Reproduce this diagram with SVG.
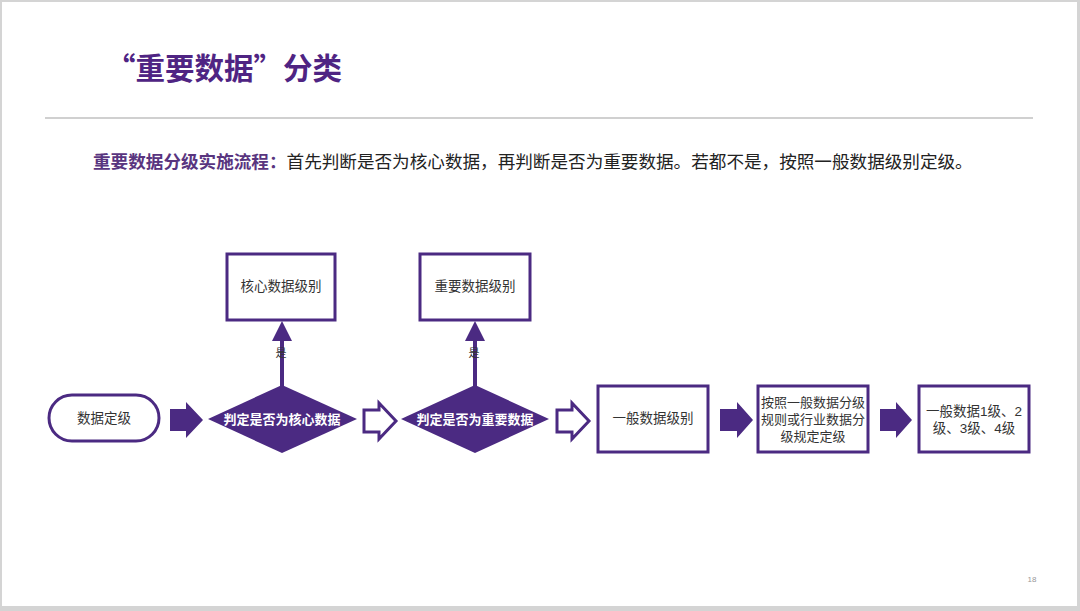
<svg xmlns="http://www.w3.org/2000/svg" width="1080" height="611" viewBox="0 0 1080 611">
<defs>
<style>
.cn{font-family:"Liberation Sans","Noto Sans CJK SC",sans-serif;}
.cjk{font-family:"Noto Sans CJK SC",sans-serif;}
.box{fill:#fff;stroke:#4b2a82;stroke-width:3;}
.dia{fill:#4b2a82;}
.solid{fill:#4b2a82;}
.hollow{fill:#fff;stroke:#4b2a82;stroke-width:3;stroke-linejoin:miter;}
.lbl{font-size:13.5px;fill:#333;text-anchor:middle;}
.sm{font-size:13px;}
.dlbl{font-size:13px;fill:#fff;font-weight:bold;text-anchor:middle;}
</style>
</defs>
<rect x="0" y="0" width="1080" height="611" fill="#d4d4d4"/>
<rect x="2" y="2" width="1075" height="604" fill="#fff"/>
<text class="cjk" x="106" y="79" font-size="29.5" font-weight="bold" fill="#4f2483">“重要数据”分类</text>
<line x1="45" y1="118" x2="1033" y2="118" stroke="#d0d0d0" stroke-width="2"/>
<text class="cn" x="93" y="168" font-size="17.6" fill="#222"><tspan font-weight="bold" fill="#59357f">重要数据分级实施流程：</tspan>首先判断是否为核心数据，再判断是否为重要数据。若都不是，按照一般数据级别定级。</text>

<g id="connectors">
<polygon class="solid" points="170,409 186,409 186,402 203,420 186,438 186,431 170,431"/>
<polygon class="hollow" points="364,410 379,410 379,403 396,421 379,439 379,432 364,432"/>
<polygon class="hollow" points="557,410 572,410 572,403 589,421 572,439 572,432 557,432"/>
<polygon class="solid" points="720,409 737,409 737,402 753,420 737,438 737,431 720,431"/>
<polygon class="solid" points="880,409 896,409 896,402 912,420 896,438 896,431 880,431"/>
<line x1="282" y1="388" x2="282" y2="336" stroke="#4b2a82" stroke-width="4"/>
<polygon class="solid" points="272,341 282,321 292,341"/>
<line x1="475" y1="388" x2="475" y2="336" stroke="#4b2a82" stroke-width="4"/>
<polygon class="solid" points="465,341 475,321 485,341"/>
<text class="cn" x="281" y="357" font-size="11" fill="#333" text-anchor="middle">是</text>
<text class="cn" x="474" y="357" font-size="11" fill="#333" text-anchor="middle">是</text>
</g>

<g id="start">
<rect class="box" x="49" y="395" width="110" height="46" rx="23"/>
<text class="cn lbl" x="104" y="423">数据定级</text>
</g>
<g id="decision1">
<polygon class="dia" points="208,419 282,385 357,419 282,453"/>
<text class="cn dlbl" x="282" y="424">判定是否为核心数据</text>
</g>
<g id="core">
<rect class="box" x="227" y="254" width="108" height="66"/>
<text class="cn lbl" x="281" y="291">核心数据级别</text>
</g>
<g id="decision2">
<polygon class="dia" points="401,419 475,385 549,419 475,453"/>
<text class="cn dlbl" x="475" y="424">判定是否为重要数据</text>
</g>
<g id="important">
<rect class="box" x="420" y="254" width="110" height="66"/>
<text class="cn lbl" x="475" y="291">重要数据级别</text>
</g>
<g id="general">
<rect class="box" x="598" y="386" width="110" height="66"/>
<text class="cn lbl" x="653" y="423">一般数据级别</text>
</g>
<g id="rule">
<rect class="box" x="758" y="386" width="110" height="66"/>
<text class="cn lbl sm" x="813" y="407">按照一般数据分级</text>
<text class="cn lbl sm" x="813" y="424">规则或行业数据分</text>
<text class="cn lbl sm" x="813" y="441">级规定定级</text>
</g>
<g id="levels">
<rect class="box" x="919" y="386" width="110" height="66"/>
<text class="cn lbl" x="974" y="416">一般数据1级、2</text>
<text class="cn lbl" x="974" y="433">级、3级、4级</text>
</g>
<text class="cn" x="1032" y="582" font-size="8" fill="#999" text-anchor="middle">18</text>
</svg>
